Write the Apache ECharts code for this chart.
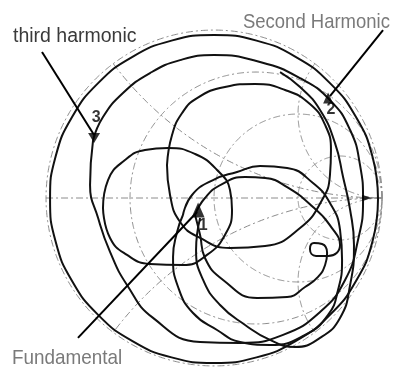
<!DOCTYPE html>
<html>
<head>
<meta charset="utf-8">
<script src="https://cdn.jsdelivr.net/npm/echarts@6/dist/echarts.min.js"></script>
<style>
html, body { margin: 0; padding: 0; background: #fff; }
#chart { width: 398px; height: 374px; }
</style>
</head>
<body>
<div id="chart"></div>
<script>
// values are in the reflection plane: unit circle is |G| = 1
var gridR = [0, 1 / 3, 1, 3];
var gridX = [0, 0.5, -0.5, 2, -2];

var outerTrace = [
    [0.976, -0.006], [0.943, 0.247], [0.845, 0.482], [0.690, 0.684], [0.488, 0.839],
    [0.253, 0.937], [0, 0.970], [-0.253, 0.937], [-0.488, 0.839], [-0.690, 0.684],
    [-0.845, 0.482], [-0.943, 0.247], [-0.976, -0.006], [-0.943, -0.259], [-0.845, -0.494],
    [-0.690, -0.696], [-0.488, -0.851], [-0.253, -0.949], [0, -0.982], [0.253, -0.949],
    [0.488, -0.851], [0.690, -0.696], [0.845, -0.494], [0.943, -0.259], [0.976, -0.006]
];
var thirdTrace = [
    [-0.720, 0.345], [-0.661, 0.482], [-0.542, 0.625], [-0.381, 0.744], [-0.202, 0.821],
    [0, 0.851], [0.274, 0.810], [0.512, 0.714], [0.690, 0.583], [0.810, 0.405],
    [0.869, 0.196], [0.887, -0.012], [0.857, -0.250], [0.780, -0.488], [0.631, -0.679],
    [0.411, -0.815], [0.155, -0.863], [-0.083, -0.857], [-0.363, -0.714], [-0.518, -0.518],
    [-0.619, -0.321], [-0.690, -0.119], [-0.738, 0.077], [-0.720, 0.345]
];
var secondTrace = [
    [0.393, 0.750], [0.512, 0.661], [0.631, 0.524], [0.720, 0.327], [0.768, 0.125],
    [0.810, -0.071], [0.833, -0.280], [0.810, -0.518], [0.750, -0.714], [0.631, -0.833],
    [0.482, -0.887], [0.333, -0.845], [0.185, -0.756], [0.036, -0.637], [-0.065, -0.488],
    [-0.107, -0.310], [-0.083, -0.119]
];
var upperLoop = [
    [-0.280, 0.196], [-0.250, 0.375], [-0.190, 0.506], [-0.101, 0.595], [0.065, 0.661],
    [0.244, 0.679], [0.423, 0.643], [0.571, 0.560], [0.661, 0.435], [0.696, 0.286],
    [0.690, 0.137], [0.643, -0.012], [0.512, -0.179], [0.304, -0.286], [0.095, -0.298],
    [-0.083, -0.238], [-0.202, -0.143], [-0.262, 0.018], [-0.280, 0.196]
];
var fundamentalLoop = [
    [-0.661, -0.060], [-0.631, 0.107], [-0.530, 0.226], [-0.411, 0.286], [-0.274, 0.298],
    [-0.113, 0.262], [0.018, 0.167], [0.095, 0.048], [0.107, -0.071], [0.065, -0.220],
    [-0.042, -0.339], [-0.185, -0.399], [-0.381, -0.393], [-0.518, -0.339], [-0.619, -0.238],
    [-0.661, -0.060]
];
var eyeLoop = [
    [-0.113, -0.101], [-0.083, -0.220], [-0.054, -0.357], [0.054, -0.488], [0.256, -0.595],
    [0.435, -0.589], [0.542, -0.530], [0.619, -0.470], [0.661, -0.399], [0.673, -0.327],
    [0.643, -0.274], [0.595, -0.268], [0.571, -0.304], [0.607, -0.345], [0.679, -0.345],
    [0.750, -0.280], [0.702, -0.179], [0.589, -0.054], [0.435, 0.065], [0.304, 0.119],
    [0.185, 0.125], [0.048, 0.083], [-0.054, 0], [-0.113, -0.101]
];
var lowerLoop = [
    [-0.185, -0.101], [-0.131, 0.018], [-0.006, 0.107], [0.137, 0.155], [0.274, 0.190],
    [0.435, 0.179], [0.589, 0.089], [0.690, -0.030], [0.750, -0.190], [0.762, -0.369],
    [0.738, -0.548], [0.679, -0.696], [0.542, -0.815], [0.333, -0.875], [0.155, -0.857],
    [0.018, -0.786], [-0.125, -0.685], [-0.214, -0.530], [-0.244, -0.351], [-0.220, -0.202],
    [-0.185, -0.101]
];
var traces = [outerTrace, thirdTrace, secondTrace, upperLoop, fundamentalLoop, eyeLoop, lowerLoop];

// pointer lines: from caption to marker
var pointerLines = [
    [[-1.024, 0.869], [-0.714, 0.375]],
    [[1.006, 1.000], [0.690, 0.607]],
    [[-0.810, -0.833], [-0.101, -0.083]]
];
var markerPoints = [[-0.714, 0.357], [0.679, 0.595], [-0.095, -0.071], [0.911, 0]];
var markerRotate = [180, 0, 0, -90];
var markerSize = [[12, 10], [10, 11], [13, 15], [6, 10]];
var markerLabels = ['3', '2', '1'];
var markerLabelPoints = [[-0.702, 0.476], [0.696, 0.524], [-0.065, -0.167]];

var captions = ['third harmonic', 'Second Harmonic', 'Fundamental'];

var chart = echarts.init(document.getElementById('chart'));

function gridCurve(kind, v) {
    if (kind == 'x' && v === 0) {
        return [[[-1, 0], [1, 0]]];
    }
    var cx, cy, rad;
    if (kind == 'r') {
        cx = v / (1 + v); cy = 0; rad = 1 / (1 + v);
    } else {
        cx = 1; cy = 1 / v; rad = 1 / Math.abs(v);
    }
    var a0 = Math.atan2(-cy, -cx), pts = [], n = 720;
    for (var i = 0; i <= n; i++) {
        var a = a0 - Math.PI + 2 * Math.PI * i / n;
        var px = cx + rad * Math.cos(a), py = cy + rad * Math.sin(a);
        if (px * px + py * py <= 1.0004) pts.push([px, py]);
    }
    return [pts];
}

var gridCurves = [];
gridR.forEach(function (r) { gridCurves.push({ kind: 'r', v: r }); });
gridX.forEach(function (x) { gridCurves.push({ kind: 'x', v: x }); });

var series = [];
series.push({
    type: 'custom',
    coordinateSystem: 'cartesian2d',
    silent: true,
    z: 1,
    data: gridCurves.map(function () { return [0, 0]; }),
    renderItem: function (params, api) {
        var c = gridCurves[params.dataIndex];
        var segs = gridCurve(c.kind, c.v);
        return {
            type: 'group',
            children: segs.map(function (seg) {
                return {
                    type: 'polyline',
                    shape: { points: seg.map(function (p) { return api.coord(p); }) },
                    style: { stroke: '#8c8c8c', lineWidth: 1, fill: null, lineDash: [7, 3, 2, 3] }
                };
            })
        };
    }
});

traces.forEach(function (t) {
    series.push({
        type: 'line',
        data: t,
        smooth: 0.5,
        showSymbol: false,
        symbol: 'none',
        clip: false,
        silent: true,
        z: 3,
        lineStyle: { color: '#111', width: 2 }
    });
});

pointerLines.forEach(function (l) {
    series.push({
        type: 'line',
        data: l,
        showSymbol: false,
        symbol: 'none',
        clip: false,
        silent: true,
        z: 4,
        lineStyle: { color: '#000', width: 2 }
    });
});

series.push({
    type: 'scatter',
    clip: false,
    silent: true,
    z: 5,
    symbol: 'triangle',
    itemStyle: { color: '#000' },
    data: markerPoints.map(function (p, i) {
        return { value: p, symbolRotate: markerRotate[i], symbolSize: markerSize[i] };
    })
});

series.push({
    type: 'scatter',
    clip: false,
    silent: true,
    z: 5,
    symbolSize: 0,
    data: markerLabelPoints.map(function (p, i) {
        return { value: p, name: markerLabels[i] };
    }),
    label: {
        show: true,
        position: 'inside',
        formatter: '{b}',
        color: '#000',
        fontSize: 16,
        fontWeight: 'bold',
        fontFamily: 'Liberation Sans, Arial, sans-serif'
    }
});

chart.setOption({
    animation: false,
    backgroundColor: '#fff',
    grid: { left: 0, right: 0, top: 0, bottom: 0 },
    xAxis: { type: 'value', min: -1.274, max: 1.095, show: false },
    yAxis: { type: 'value', min: -1.048, max: 1.179, show: false },
    graphic: [
        { type: 'text', x: 13, y: 27, style: { text: captions[0], fill: '#3a3a3a', font: '19.5px "Liberation Sans", sans-serif' } },
        { type: 'text', x: 243, y: 12, scaleX: 0.88, style: { text: captions[1], fill: '#7a7a7a', font: '21px "Liberation Sans", sans-serif' } },
        { type: 'text', x: 12, y: 348, scaleX: 0.9, style: { text: captions[2], fill: '#7a7a7a', font: '21px "Liberation Sans", sans-serif' } }
    ],
    series: series
});
</script>
</body>
</html>
